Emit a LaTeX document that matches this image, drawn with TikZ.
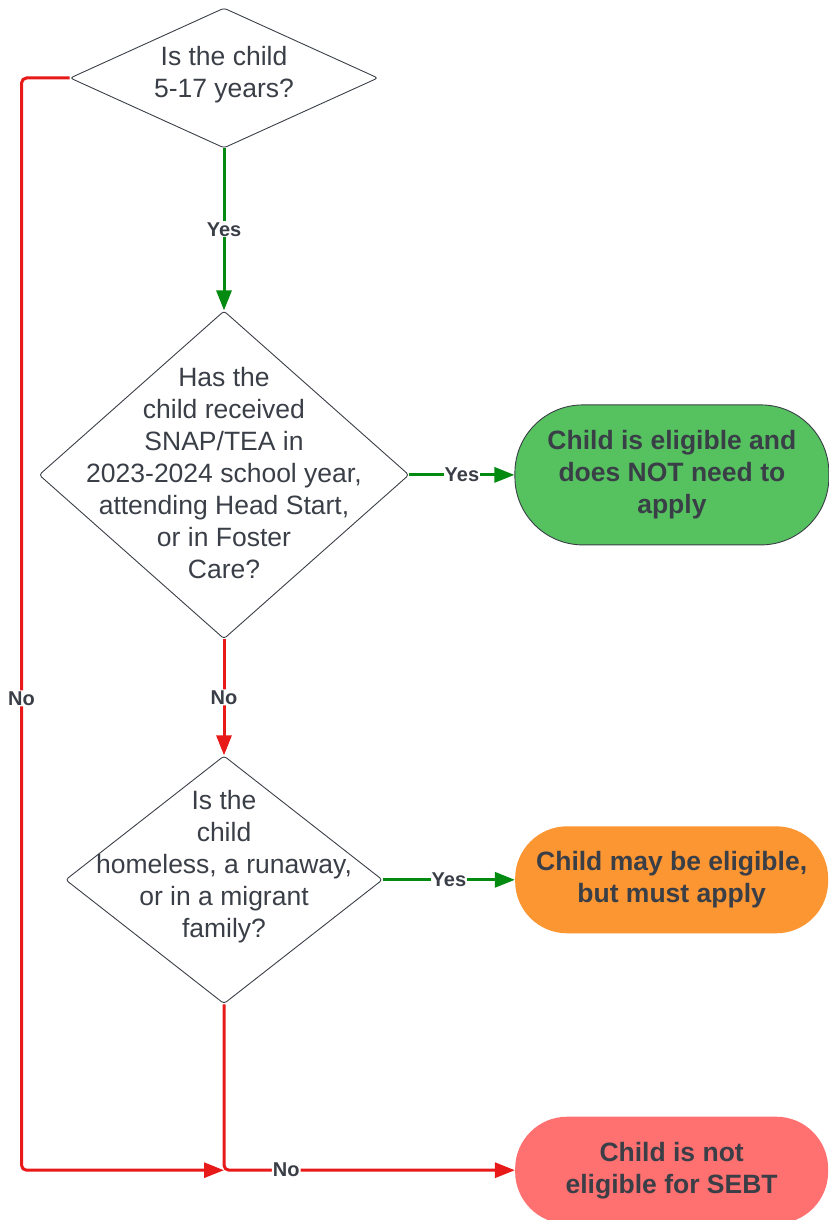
\documentclass[tikz,border=0pt]{standalone}
\usepackage{fontspec}
\setmainfont{Liberation Sans}
\usetikzlibrary{positioning,shapes.geometric,arrows.meta}
\definecolor{txtgray}{HTML}{3A3F47}
\definecolor{noRed}{HTML}{E81919}
\definecolor{yesGreen}{HTML}{038A10}
\definecolor{okFill}{HTML}{55C25F}
\definecolor{mayFill}{HTML}{FC9633}
\definecolor{notFill}{HTML}{FF7070}

\begin{document}
\begin{tikzpicture}[
				decnode/.style={diamond, draw=txtgray, line width=0.9pt, rounded corners=3pt, inner sep=0pt},
				dectext/.style={align=center, text=txtgray, font=\fontsize{26.5}{32}\selectfont},
				endnode/.style={rectangle, rounded corners=52pt, inner sep=0pt, align=center, text=txtgray, font=\fontsize{26.5}{32}\selectfont\bfseries, minimum width=313pt, minimum height=107pt},
				lbl/.style={fill=white, inner sep=1pt, text=txtgray, font=\fontsize{20}{22}\selectfont\bfseries},
				yesline/.style={draw=yesGreen, line width=3pt, -{Triangle[length=20pt,width=15pt]}},
				noline/.style={draw=noRed, line width=3pt, rounded corners=5pt, -{Triangle[length=20pt,width=15pt]}},
			]
			\useasboundingbox (0,0) rectangle (829pt,-1220pt);
			\node[decnode, minimum width=308pt, minimum height=140pt, label={[dectext, yshift=3pt]center:Is the child\\5-17 years?}] (age) at (224pt,-78pt) {};
			\node[decnode, minimum width=370pt, minimum height=328pt, label={[dectext, yshift=2pt]center:Has the\\child received\\SNAP/TEA in\\2023-2024 school year,\\attending Head Start,\\or in Foster\\Care?}] (snap) [below=162pt of age] {};
			\node[decnode, minimum width=317pt, minimum height=248pt, label={[dectext, yshift=13pt]center:Is the\\child\\homeless, a runaway,\\or in a migrant\\family?}] (home) [below=116pt of snap] {};
			\node[endnode, fill=okFill, draw=txtgray, line width=0.9pt, minimum width=314pt, minimum height=140pt, rounded corners=68pt] (eligible) [right=105pt of snap] {Child is eligible and\\does NOT need to\\apply};
			\node[endnode, fill=mayFill] (mustapply) [right=132pt of home] {Child may be eligible,\\but must apply};
			\node[endnode, fill=notFill] (noteligible) [below=183pt of mustapply] {Child is not\\eligible for SEBT};
			\coordinate (loopcorner) at ([xshift=-48pt]age.west);
			\coordinate (merge) at (home.south |- noteligible.west);
			\draw[yesline] (age) -- node[lbl] {Yes} (snap);
			\draw[yesline] (snap) -- node[lbl] {Yes} (eligible);
			\draw[noline] (snap) -- node[lbl] {No} (home);
			\draw[yesline] (home) -- node[lbl] {Yes} (mustapply);
			\draw[noline] (age.west) -- (loopcorner) |- node[lbl, pos=0.284] {No} (merge);
			\draw[noline] (home.south) |- node[lbl, pos=0.607] {No} (noteligible.west);
			\end{tikzpicture}
\end{document}
